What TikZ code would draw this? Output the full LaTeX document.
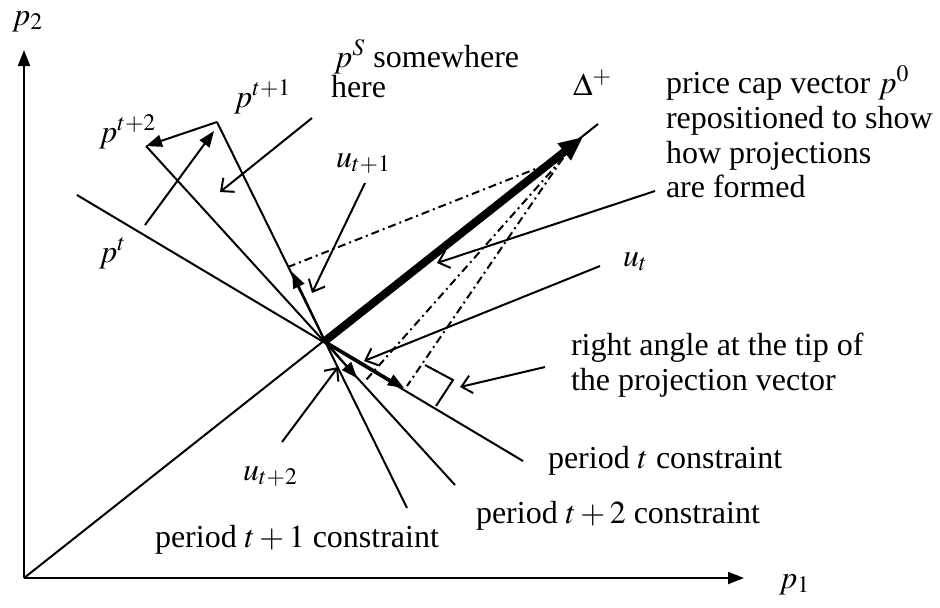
\documentclass[tikz,border=0pt]{standalone}
\usepackage{mathptmx}
\usepackage{fontspec}
\setmainfont{Liberation Serif}
\usetikzlibrary{arrows.meta}
\tikzstyle{vec} = [line width=1pt,-{Triangle[length=8pt,width=6pt]}]
\tikzstyle{pointer} = [line width=1pt,-{Straight Barb[length=5pt,width=9pt]}]
\tikzstyle{proj} = [line width=1pt,dash pattern=on 4pt off 2pt on 1pt off 2pt]
\tikzstyle{txt} = [inner sep=0pt, anchor=base west]

\begin{document}
\begin{tikzpicture}[x=0.5pt, y=-0.5pt, line width=1pt, font=\fontsize{16}{17.5}\selectfont]
  \useasboundingbox (0,0) rectangle (940,607);
  % axes
  \coordinate (O) at (24,578);
  \coordinate (ytip) at (24,50);
  \coordinate (xtip) at (744,578);
  \draw[vec] (O) -- (ytip);
  \draw[vec] (O) -- (xtip);
  \node[txt] (p2) at (11,25) {$p_2$};
  \node[txt] (p1) at (778,588) {$p_1$};
  % diagonal and price cap vector
  \coordinate (P) at (325,341);
  \coordinate (dtip) at (598,124);
  \coordinate (p0tip) at (583,137);
  \draw (O) -- (dtip);
  \draw[line width=4pt, -{Triangle[length=12pt,width=10pt]}] (P) -- (p0tip);
  \node[txt] (delta) at (572,95) {$\Delta^{+}$};
  % constraints
  \coordinate (ct0) at (77,195);
  \coordinate (ct1) at (523,461);
  \coordinate (pt1) at (217,122);
  \coordinate (c1end) at (407,508);
  \coordinate (pt2) at (146,146);
  \coordinate (c2end) at (455,485);
  \draw (ct0) -- (ct1);
  \draw (pt1) -- (c1end);
  \draw (pt2) -- (c2end);
  % price path
  \coordinate (pt) at (145,225);
  \coordinate (pt1in) at (214,131);
  \draw[vec] (pt) -- (pt1in);
  \draw[vec] (pt1) -- (pt2);
  \node[txt] (ptlab) at (98,262) {$p^t$};
  \node[txt] (pt1lab) at (233,107) {$p^{t+1}$};
  \node[txt] (pt2lab) at (98,142) {$p^{t+2}$};
  % projections
  \coordinate (u1tip) at (292,272);
  \coordinate (u2tip) at (357,378);
  \coordinate (utip) at (404,388);
  \draw[vec] (P) -- (u1tip);
  \draw[vec] (P) -- (u2tip);
  \draw[vec] (P) -- (utip);
  \coordinate (D) at (563,158);
  \draw[proj] (D) -- (288,267);
  \draw[proj] (D) -- (407,386);
  \draw[proj] (D) -- (366,380);
  % right angle mark
  \coordinate (ra1) at (425,365);
  \coordinate (ra2) at (453,380);
  \coordinate (ra3) at (436,406);
  \draw (ra1) -- (ra2) -- (ra3);
  % labels and pointers
  \node[txt] (pS) at (333,67) {$p^S$ somewhere};
  \node[txt] (here) at (330,97) {here};
  \coordinate (pSfrom) at (312,118);
  \coordinate (pSto) at (220,192);
  \draw[pointer] (pSfrom) -- (pSto);
  \node[txt] (u1lab) at (335,167) {$u_{t+1}$};
  \coordinate (u1from) at (365,183);
  \coordinate (u1to) at (312,293);
  \draw[pointer] (u1from) -- (u1to);
  \node[txt] (cap1) at (665,93) {price cap vector $p^0$};
  \node[txt] (cap2) at (665,128) {repositioned to show};
  \node[txt] (cap3) at (665,163) {how projections};
  \node[txt] (cap4) at (665,197) {are formed};
  \coordinate (capfrom) at (655,191);
  \coordinate (capto) at (437,263);
  \draw[pointer] (capfrom) -- (capto);
  \node[txt] (utlab) at (622,266) {$u_t$};
  \coordinate (utfrom) at (600,266);
  \coordinate (utto) at (364,361);
  \draw[pointer] (utfrom) -- (utto);
  \node[txt] (ra4) at (570,355) {right angle at the tip of};
  \node[txt] (ra5) at (570,390) {the projection vector};
  \coordinate (rafrom) at (545,367);
  \coordinate (rato) at (460,387);
  \draw[pointer] (rafrom) -- (rato);
  \node[txt] (u2lab) at (242,480) {$u_{t+2}$};
  \coordinate (u2from) at (282,442);
  \coordinate (u2to) at (338,367);
  \draw[pointer] (u2from) -- (u2to);
  \node[txt] (perT) at (547,468) {period $t$ constraint};
  \node[txt] (perT2) at (475,523) {period $t+2$ constraint};
  \node[txt] (perT1) at (154,547) {period $t+1$ constraint};
\end{tikzpicture}
\end{document}
